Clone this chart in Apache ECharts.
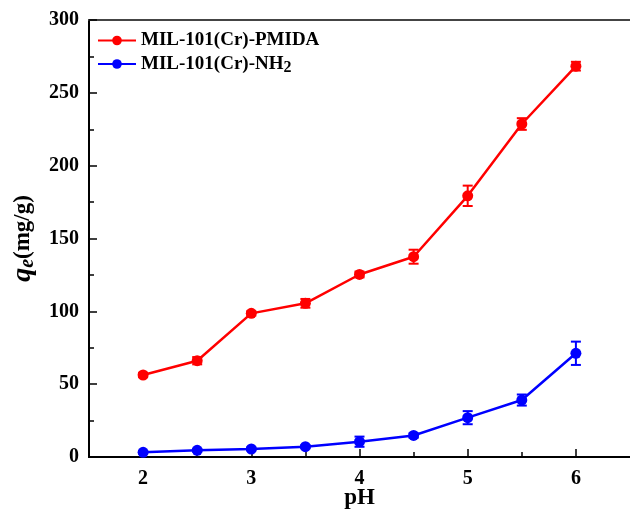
<!DOCTYPE html>
<html>
<head>
<meta charset="utf-8">
<script src="https://cdn.jsdelivr.net/npm/echarts@6/dist/echarts.min.js"></script>
<style>
  html, body { margin: 0; padding: 0; background: #fff; }
  #chart { width: 630px; height: 515px; }
</style>
</head>
<body>
<div id="chart"></div>
<script>
// Adsorption capacity vs. pH
const pH = [2, 2.5, 3, 3.5, 4, 4.5, 5, 5.5, 6];
const pmida = [56.3, 66.1, 98.6, 105.5, 125.3, 137.5, 179.3, 228.6, 268.3];
const pmidaErr = [1.5, 2.5, 1.5, 3, 2, 4.8, 7, 4, 3];
const nh2 = [3.2, 4.6, 5.5, 7.1, 10.5, 14.8, 27, 39.1, 71.2];
const nh2Err = [1, 1, 1, 1, 3.5, 1.5, 4.5, 3.8, 8];
const yTicks = [0, 50, 100, 150, 200, 250, 300];
const xTicks = [2, 3, 4, 5, 6];
const xMinorTicks = [2.5, 3.5, 4.5, 5.5];

const FONT = '"Liberation Serif", "Times New Roman", serif';
const RED = '#ff0000';
const BLUE = '#0000ff';

function pairs(ys) { return pH.map((x, i) => [x, ys[i]]); }
function errData(ys, es) { return pH.map((x, i) => [x, ys[i], es[i]]); }

function errorBars(color) {
  return function (params, api) {
    const x = api.value(0), y = api.value(1), e = api.value(2);
    const lo = api.coord([x, y - e]);
    const hi = api.coord([x, y + e]);
    const w = 5;
    const style = { stroke: color, lineWidth: 2 };
    return {
      type: 'group',
      children: [
        { type: 'line', shape: { x1: lo[0], y1: lo[1], x2: hi[0], y2: hi[1] }, style },
        { type: 'line', shape: { x1: lo[0] - w, y1: lo[1], x2: lo[0] + w, y2: lo[1] }, style },
        { type: 'line', shape: { x1: hi[0] - w, y1: hi[1], x2: hi[0] + w, y2: hi[1] }, style }
      ]
    };
  };
}

const labelFont = { fontFamily: FONT, fontWeight: 'bold', fontSize: 20, color: '#000' };

const chart = echarts.init(document.getElementById('chart'), null, { renderer: 'canvas' });

chart.setOption({
  animation: false,
  backgroundColor: '#ffffff',
  grid: { left: 89, top: 20, right: 0, bottom: 58, containLabel: false, outerBoundsMode: 'none' },
  legend: {
    left: 92,
    top: 26,
    orient: 'vertical',
    itemGap: 2,
    itemWidth: 38,
    itemHeight: 12,
    data: ['MIL-101(Cr)-PMIDA', 'MIL-101(Cr)-NH2'],
    formatter: function (name) {
      if (name === 'MIL-101(Cr)-NH2') return '{t|MIL-101(Cr)-NH}{s|2}';
      return '{t|' + name + '}';
    },
    textStyle: {
      fontFamily: FONT,
      fontWeight: 'bold',
      fontSize: 19,
      color: '#000',
      rich: {
        t: { fontFamily: FONT, fontWeight: 'bold', fontSize: 19, color: '#000', lineHeight: 22 },
        s: { fontFamily: FONT, fontWeight: 'bold', fontSize: 16, color: '#000', padding: [8, 0, 0, 0], lineHeight: 22 }
      }
    }
  },
  xAxis: [
    {
      type: 'value',
      min: 1.5,
      max: 6.5,
      interval: 0.5,
      name: 'pH',
      nameLocation: 'middle',
      nameGap: 30,
      nameMoveOverlap: false,
      nameTextStyle: { fontFamily: FONT, fontWeight: 'bold', fontSize: 23, color: '#000' },
      axisLine: { show: true, onZero: false, lineStyle: { color: '#000', width: 2 } },
      axisTick: {
        show: true, inside: true, length: 8,
        customValues: xTicks,
        lineStyle: { color: '#000', width: 1.5 }
      },
      axisLabel: Object.assign({ margin: 12, customValues: xTicks }, labelFont),
      splitLine: { show: false }
    },
    {
      // half-unit ticks along the bottom edge
      type: 'value',
      position: 'bottom',
      offset: 0,
      min: 1.5,
      max: 6.5,
      interval: 0.5,
      axisLine: { show: true, onZero: false, lineStyle: { color: '#000', width: 2 } },
      axisTick: {
        show: true, inside: true, length: 5,
        customValues: xMinorTicks,
        lineStyle: { color: '#000', width: 1.5 }
      },
      axisLabel: { show: false, customValues: xMinorTicks },
      splitLine: { show: false }
    },
    {
      // top frame edge
      type: 'value',
      position: 'top',
      min: 1.5,
      max: 6.5,
      axisLine: { show: true, onZero: false, lineStyle: { color: '#444', width: 2 } },
      axisTick: { show: false },
      axisLabel: { show: false },
      splitLine: { show: false }
    }
  ],
  yAxis: {
    type: 'value',
    min: 0,
    max: 300,
    interval: 50,
    name: '{q|q}{e|e}{n|(mg/g)}',
    nameLocation: 'middle',
    nameGap: 43,
    nameRotate: 90,
    nameTextStyle: {
      rich: {
        q: { fontFamily: FONT, fontWeight: 'bold', fontStyle: 'italic', fontSize: 28, color: '#000', lineHeight: 30 },
        e: { fontFamily: FONT, fontWeight: 'bold', fontStyle: 'italic', fontSize: 20, color: '#000', padding: [10, 0, 0, 0], lineHeight: 30 },
        n: { fontFamily: FONT, fontWeight: 'bold', fontSize: 23, color: '#000', lineHeight: 30 }
      }
    },
    axisLine: { show: true, lineStyle: { color: '#000', width: 2 } },
    axisTick: {
      show: true, inside: true,
      length: 8,
      lineStyle: { color: '#000', width: 1.5 }
    },
    minorTick: { show: true, splitNumber: 2, length: 5, lineStyle: { color: '#000', width: 1.5 } },
    axisLabel: Object.assign({ margin: 10, customValues: yTicks }, labelFont),
    splitLine: { show: false }
  },
  series: [
    {
      name: 'MIL-101(Cr)-PMIDA',
      type: 'line',
      data: pairs(pmida),
      symbol: 'circle',
      symbolSize: 11,
      itemStyle: { color: RED },
      lineStyle: { color: RED, width: 2.5 },
      z: 3
    },
    {
      name: 'MIL-101(Cr)-NH2',
      type: 'line',
      data: pairs(nh2),
      symbol: 'circle',
      symbolSize: 11,
      itemStyle: { color: BLUE },
      lineStyle: { color: BLUE, width: 2.5 },
      z: 3
    },
    {
      name: 'PMIDA error',
      type: 'custom',
      data: errData(pmida, pmidaErr),
      renderItem: errorBars(RED),
      encode: { x: 0, y: 1 },
      z: 4,
      silent: true
    },
    {
      name: 'NH2 error',
      type: 'custom',
      data: errData(nh2, nh2Err),
      renderItem: errorBars(BLUE),
      encode: { x: 0, y: 1 },
      z: 4,
      silent: true
    }
  ]
});
</script>
</body>
</html>
